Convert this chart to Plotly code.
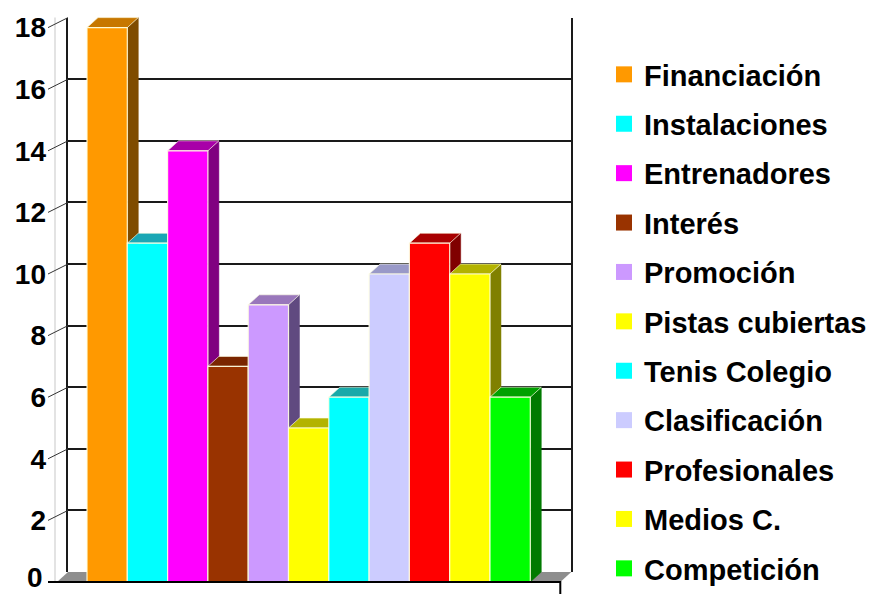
import plotly.graph_objects as go

# ---------------- data ----------------
categories = ["Financiación", "Instalaciones", "Entrenadores", "Interés", "Promoción",
              "Pistas cubiertas", "Tenis Colegio", "Clasificación", "Profesionales",
              "Medios C.", "Competición"]
values = [18, 11, 14, 7, 9, 5, 6, 10, 11, 10, 6]
tick_values = [0, 2, 4, 6, 8, 10, 12, 14, 16, 18]
tick_labels = ["0", "2", "4", "6", "8", "10", "12", "14", "16", "18"]

# ---------------- styles ----------------
front_colors = ["#FF9900", "#00FFFF", "#FF00FF", "#993300", "#CC99FF", "#FFFF00",
                "#00FFFF", "#CCCCFF", "#FF0000", "#FFFF00", "#00FF00"]
top_colors = ["#C77700", "#1AA7B5", "#A800A8", "#7A2600", "#9977BB", "#B3B300",
              "#19A9A9", "#9999C8", "#A80000", "#B3B300", "#00A000"]
side_colors = ["#7F4C00", "#009999", "#800080", "#5C1F00", "#604A80", "#808000",
               "#008C8C", "#7777A0", "#800000", "#808000", "#007A00"]

W, H = 883, 594
L, R, T, B = 47, 580, 5, 594          # plot area in pixels
PXU_X, PXU_Y = 40.3, 30.8             # pixels per data unit
X0PIX, Y0PIX = 87, 582                # pixel of x=-0.5 and y=0 (front plane)
DXP, DYP = 11, 10                      # depth offset in pixels
DX, DY = DXP / PXU_X, DYP / PXU_Y

xr = [-0.5 - (X0PIX - L) / PXU_X, -0.5 + (R - X0PIX) / PXU_X]
yr = [-(B - Y0PIX) / PXU_Y, (Y0PIX - T) / PXU_Y]

n = len(values)
xf0 = -0.5 - 30 / PXU_X               # floor front-left
xf1 = (n - 0.5) + 30 / PXU_X          # floor front-right
xline0 = -0.5 - 39 / PXU_X            # start of front floor line

fig = go.Figure()

# back wall (native gridlines) on xy
back_x_dom = [((xf0 + DX - xr[0]) * PXU_X) / (R - L), ((xf1 + DX - xr[0]) * PXU_X) / (R - L)]
ymax = max(tick_values)
back_bot_pix = Y0PIX - DYP
back_top_pix = back_bot_pix - ymax * PXU_Y
back_y_dom = [(B - back_bot_pix) / (B - T), (B - back_top_pix) / (B - T)]

# dummy invisible trace to create xy subplot
fig.add_trace(go.Scatter(x=[0], y=[0], mode="markers", marker=dict(opacity=0),
                         xaxis="x", yaxis="y", showlegend=False, hoverinfo="skip"))

# floor
fig.add_trace(go.Scatter(x=[xf0, xf1, xf1 + DX, xf0 + DX, xf0], y=[0, 0, DY, DY, 0],
                         mode="lines", fill="toself", fillcolor="#8E8E8E",
                         line=dict(width=0), xaxis="x2", yaxis="y2",
                         showlegend=False, hoverinfo="skip"))
# faint left front edge
fig.add_trace(go.Scatter(x=[xf0 - 2 / PXU_X, xf0 - 2 / PXU_X], y=[0, ymax + DY],
                         mode="lines", line=dict(color="#DADADA", width=1.5),
                         xaxis="x2", yaxis="y2", showlegend=False, hoverinfo="skip"))
# diagonal ticks
tx, ty = [], []
for v in tick_values[1:]:
    tx += [xline0, xf0 + DX, None]
    ty += [v, v + DY, None]
fig.add_trace(go.Scatter(x=tx, y=ty, mode="lines", line=dict(color="#333333", width=1),
                         xaxis="x2", yaxis="y2", showlegend=False, hoverinfo="skip"))

# sides and tops
for i, v in enumerate(values):
    fig.add_trace(go.Scatter(
        x=[i + 0.5, i + 0.5 + DX, i + 0.5 + DX, i + 0.5, i + 0.5],
        y=[0, DY, v + DY, v, 0], mode="lines", fill="toself",
        fillcolor=side_colors[i], line=dict(color=side_colors[i], width=0.5),
        xaxis="x2", yaxis="y2", showlegend=False, hoverinfo="skip"))
    fig.add_trace(go.Scatter(
        x=[i - 0.5, i - 0.5 + DX, i + 0.5 + DX, i + 0.5, i - 0.5],
        y=[v, v + DY, v + DY, v, v], mode="lines", fill="toself",
        fillcolor=top_colors[i], line=dict(color="rgba(255,255,230,0.8)", width=0.8),
        xaxis="x2", yaxis="y2", showlegend=False, hoverinfo="skip"))

# front faces
fig.add_trace(go.Bar(x=list(range(n)), y=values, width=1,
                     marker=dict(color=front_colors,
                                 line=dict(color="rgba(255,255,225,0.9)", width=1.2)),
                     xaxis="x3", yaxis="y3", showlegend=False,
                     hovertext=categories))

# front floor line
fig.add_trace(go.Scatter(x=[xline0, xf1, xf1], y=[0, 0, yr[0]], mode="lines",
                         line=dict(color="black", width=2),
                         xaxis="x3", yaxis="y3", showlegend=False, hoverinfo="skip"))

# legend entries
for i, c in enumerate(categories):
    fig.add_trace(go.Scatter(x=[None], y=[None], mode="markers", name=c,
                             legendgroup=c,
                             marker=dict(symbol="square", size=17, color=front_colors[i]),
                             xaxis="x3", yaxis="y3"))

font_fam = "Liberation Sans, Arial, sans-serif"
tick_font = dict(family=font_fam, size=28, color="black", weight="bold")
hidden = dict(visible=False, showgrid=False, zeroline=False, fixedrange=True)

# the lowest label sits at the very bottom edge of the figure (as in the original)
fig.add_annotation(text=tick_labels[0], xref="paper", yref="paper", x=-3 / (R - L), y=0,
                   xanchor="right", yanchor="bottom", showarrow=False, font=tick_font,
                   borderpad=0)

fig.update_layout(
    width=W, height=H,
    margin=dict(l=L, r=W - R, t=T, b=H - B),
    paper_bgcolor="white", plot_bgcolor="rgba(0,0,0,0)",
    showlegend=True,
    xaxis=dict(domain=back_x_dom, range=[0, 1], visible=False, showgrid=False,
               zeroline=False, anchor="y"),
    yaxis=dict(domain=back_y_dom, range=[0, ymax], anchor="x",
               tickvals=tick_values[1:], showticklabels=False, ticks="",
               showgrid=True, gridcolor="#1a1a1a", gridwidth=1.6, zeroline=False,
               showline=True, linecolor="#1a1a1a", linewidth=1.6, mirror=True),
    xaxis2=dict(domain=[0, 1], range=xr, anchor="y2", **hidden),
    yaxis2=dict(domain=[0, 1], range=yr, anchor="x2", showgrid=False, zeroline=False,
                showline=False, tickvals=tick_values[1:], ticktext=tick_labels[1:],
                ticks="", tickfont=tick_font, ticklabelstandoff=0),
    xaxis3=dict(domain=[0, 1], range=xr, anchor="y3", **hidden),
    yaxis3=dict(domain=[0, 1], range=yr, anchor="x3", **hidden),
    legend=dict(x=(604 - L) / (R - L), xanchor="left", y=(B - 58) / (B - T), yanchor="top",
                font=dict(family=font_fam, size=29, color="black", weight="bold"),
                tracegroupgap=8.7, bgcolor="rgba(0,0,0,0)", itemsizing="trace"),
)

fig.write_html("out.html")
